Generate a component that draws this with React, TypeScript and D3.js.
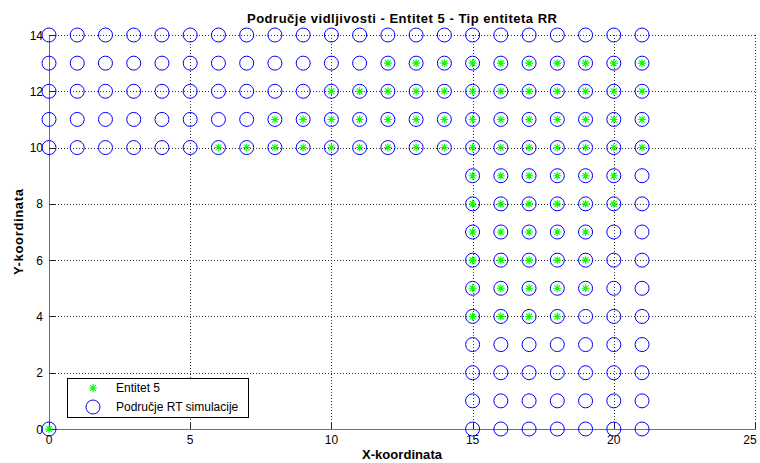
import React from "react";
import * as d3 from "d3";

// ---- data ----
const xTicks = [0, 5, 10, 15, 20, 25];
const yTicks = [0, 2, 4, 6, 8, 10, 12, 14];

// RT simulation region (blue circles): rows of y with their x positions
const upperRowsY = [10, 11, 12, 13, 14];
const upperRowX = [0, 1, 2, 3, 4, 5, 6, 7, 8, 9, 10, 11, 12, 13, 14, 15, 16, 17, 18, 19, 20, 21];
const lowerRowsY = [0, 1, 2, 3, 4, 5, 6, 7, 8, 9];
const lowerRowX = [15, 16, 17, 18, 19, 20, 21];
const originPoint: [number, number] = [0, 0];

// Entitet 5 (green stars): visible x per row
const starRows: { y: number; xs: number[] }[] = [
  { y: 13, xs: [12, 13, 14, 15, 16, 17, 18, 19, 20, 21] },
  { y: 12, xs: [10, 11, 12, 13, 14, 15, 16, 17, 18, 19, 20, 21] },
  { y: 11, xs: [8, 9, 10, 11, 12, 13, 14, 15, 16, 17, 18, 19, 20, 21] },
  { y: 10, xs: [6, 7, 8, 9, 10, 11, 12, 13, 14, 15, 16, 17, 18, 19, 20, 21] },
  { y: 9, xs: [15, 16, 17, 18, 19, 20] },
  { y: 8, xs: [15, 16, 17, 18, 19, 20] },
  { y: 7, xs: [15, 16, 17, 18, 19] },
  { y: 6, xs: [15, 16, 17, 18, 19] },
  { y: 5, xs: [15, 16, 17, 18, 19] },
  { y: 4, xs: [15, 16, 17, 18] },
  { y: 0, xs: [0] },
];

const title = "Područje vidljivosti - Entitet 5 - Tip entiteta RR";
const xLabel = "X-koordinata";
const yLabel = "Y-koordinata";
const legendLabels = ["Entitet 5", "Područje RT simulacije"];

// ---- build point lists ----
const circles: [number, number][] = [];
upperRowsY.forEach((yy) => upperRowX.forEach((xx) => circles.push([xx, yy])));
lowerRowsY.forEach((yy) => lowerRowX.forEach((xx) => circles.push([xx, yy])));
circles.push(originPoint);
const stars: [number, number][] = [];
starRows.forEach((r) => r.xs.forEach((xx) => stars.push([xx, r.y])));

const W = 760;
const H = 463;
const FONT = "'Liberation Sans', Arial, Helvetica, sans-serif";

function starPath(cx: number, cy: number, r: number) {
  const d = r * 0.72;
  return (
    `M${cx - r},${cy}L${cx + r},${cy}` +
    `M${cx},${cy - r}L${cx},${cy + r}` +
    `M${cx - d},${cy - d}L${cx + d},${cy + d}` +
    `M${cx - d},${cy + d}L${cx + d},${cy - d}`
  );
}

export default function App() {
  const x = d3.scaleLinear().domain([0, 25]).range([49, 755]);
  const y = d3.scaleLinear().domain([0, 14]).range([429, 35]);
  const [x0, x1] = x.range();
  const [y0, y1] = y.range();
  const tickLen = 6;

  return (
    <>
      <style>{`body{margin:0;background:#fff}`}</style>
      <svg width={W} height={H} style={{ display: "block", background: "#fff" }} fontFamily={FONT}>
        <rect x={0} y={0} width={W} height={H} fill="#fff" />
        {/* grid */}
        <g stroke="#333" strokeWidth={1} strokeDasharray="1,2" shapeRendering="crispEdges">
          {xTicks.filter((t) => t !== 0).map((t) => (
            <line key={"gx" + t} x1={x(t) + 0.5} x2={x(t) + 0.5} y1={y1} y2={y0} />
          ))}
          {yTicks.filter((t) => t !== 0).map((t) => (
            <line key={"gy" + t} x1={x0} x2={x1} y1={y(t) + 0.5} y2={y(t) + 0.5} />
          ))}
        </g>
        {/* axes lines */}
        <g stroke="#707070" strokeWidth={1} shapeRendering="crispEdges">
          <line x1={x0 + 0.5} x2={x0 + 0.5} y1={y1} y2={y0 + 1} />
          <line x1={x0} x2={x1 + 1} y1={y0 + 0.5} y2={y0 + 0.5} />
        </g>
        {/* ticks */}
        <g stroke="#222" strokeWidth={1} shapeRendering="crispEdges">
          {xTicks.map((t) => (
            <line key={"tx" + t} x1={x(t) + 0.5} x2={x(t) + 0.5} y1={y0} y2={y0 - tickLen} />
          ))}
          {yTicks.map((t) => (
            <line key={"ty" + t} x1={x0} x2={x0 + tickLen} y1={y(t) + 0.5} y2={y(t) + 0.5} />
          ))}
        </g>
        {/* tick labels */}
        <g fontSize={12} fill="#000">
          {xTicks.map((t) => (
            <text key={"lx" + t} x={Math.min(x(t), 750)} y={444} textAnchor="middle">
              {t}
            </text>
          ))}
          {yTicks.map((t) => (
            <text key={"ly" + t} x={43} y={y(t) + 4.5} textAnchor="end">
              {t}
            </text>
          ))}
        </g>
        {/* stars */}
        <g stroke="#00ff00" strokeWidth={1.1} fill="none">
          {stars.map(([a, b], i) => (
            <path key={"s" + i} d={starPath(x(a), y(b), 4)} />
          ))}
        </g>
        {/* circles */}
        <g stroke="#0000ff" strokeWidth={1} fill="none">
          {circles.map(([a, b], i) => (
            <circle key={"c" + i} cx={x(a)} cy={y(b)} r={7} />
          ))}
        </g>
        {/* title and labels */}
        <text
          x={(x0 + x1) / 2}
          y={23}
          textAnchor="middle"
          fontSize={13}
          fontWeight="bold"
          textLength={310}
          lengthAdjust="spacing"
        >
          {title}
        </text>
        <text
          x={(x0 + x1) / 2}
          y={459}
          textAnchor="middle"
          fontSize={13}
          fontWeight="bold"
          textLength={80}
          lengthAdjust="spacing"
        >
          {xLabel}
        </text>
        <text
          transform={`translate(23,${(y0 + y1) / 2}) rotate(-90)`}
          textAnchor="middle"
          fontSize={13}
          fontWeight="bold"
          textLength={86}
          lengthAdjust="spacing"
        >
          {yLabel}
        </text>
        {/* legend */}
        <g>
          <rect x={67.5} y={378.5} width={181} height={39} fill="#fff" stroke="#000" strokeWidth={1} />
          <path d={starPath(93, 388, 4)} stroke="#00ff00" strokeWidth={1.1} fill="none" />
          <circle cx={93} cy={407} r={7} stroke="#0000ff" strokeWidth={1} fill="none" />
          <text x={116} y={392} fontSize={12}>
            {legendLabels[0]}
          </text>
          <text x={116} y={411} fontSize={12}>
            {legendLabels[1]}
          </text>
        </g>
      </svg>
    </>
  );
}
